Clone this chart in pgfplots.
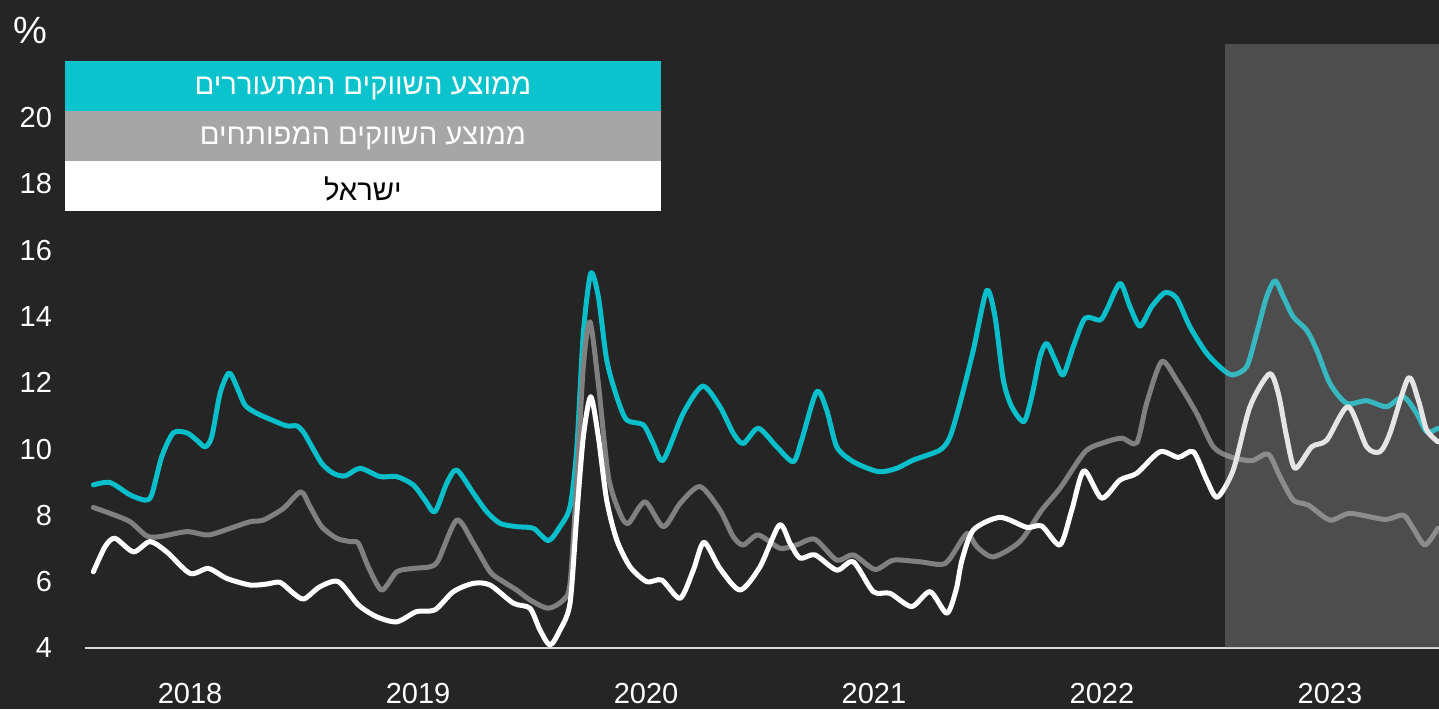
\documentclass[border=0pt]{standalone}
\usepackage{fontspec}
\setmainfont{Liberation Sans}
\newfontfamily\hebfont[Script=Hebrew]{Liberation Sans}
\usepackage{pgfplots}
\pgfplotsset{compat=1.18}
\usetikzlibrary{backgrounds}
\TeXXeTstate=1

\definecolor{bg}{HTML}{252525}
\definecolor{tealline}{HTML}{06BFCA}
\definecolor{tealbox}{HTML}{0BC3CD}
\definecolor{grayline}{HTML}{808080}
\definecolor{graybox}{HTML}{A6A6A6}
\definecolor{axc}{HTML}{D9D9D9}
\definecolor{shadec}{HTML}{AAAAAA}

\begin{document}
\begin{tikzpicture}
\begin{axis}[
    name=ax,
    width=677pt, height=302pt,
    scale only axis,
    xmin=0.47, xmax=71.74,
    ymin=4, ymax=22.22,
    clip=false,
    axis lines*=left,
    x axis line style={draw=axc, line width=1pt, -},
    y axis line style={draw=none},
    tick style={draw=none},
    major tick length=0pt,
    xtick={6,18,30,42,54,66},
    xticklabels={2018,2019,2020,2021,2022,2023},
    ytick={4,6,...,20},
    /pgf/number format/assume math mode=true,
    xticklabel style={text=white, font=\fontsize{14.5}{16}\selectfont, yshift=-14pt},
    yticklabel style={text=white, font=\fontsize{14.5}{16}\selectfont, xshift=-13pt},
    every axis plot/.append style={line width=2.5pt, smooth, tension=0.45, line join=round, line cap=round},
]

% emerging markets average
\addplot[color=tealline] coordinates {
(0.91,8.92) (1.79,8.99) (2.84,8.62) (3.63,8.46) (3.98,8.62) (4.51,9.77) (5.12,10.49)
(5.83,10.49) (6.35,10.27) (6.79,10.07) (7.14,10.37) (7.58,11.68) (8.05,12.30) (8.46,11.88)
(8.89,11.33) (9.51,11.08) (10.38,10.86) (11.09,10.70) (11.62,10.70) (11.96,10.52) (12.32,10.17)
(12.93,9.57) (13.54,9.27) (14.16,9.19) (14.95,9.42) (16.00,9.17) (16.88,9.17) (17.75,8.92)
(18.37,8.46) (18.89,8.11) (19.51,8.97) (20.04,9.37) (20.91,8.67) (21.62,8.11) (22.32,7.76)
(23.19,7.66) (24.07,7.61) (24.86,7.24) (25.47,7.66) (26.00,8.26) (26.35,9.97) (26.70,13.49)
(27.09,15.30) (27.49,14.60) (27.93,12.69) (28.46,11.58) (28.98,10.88) (29.86,10.73) (30.38,10.17)
(30.91,9.67) (31.96,11.08) (32.98,11.90) (33.89,11.28) (34.59,10.48) (35.12,10.17) (35.91,10.63)
(36.88,10.07) (37.75,9.62) (38.19,10.27) (38.98,11.73) (39.51,11.18) (40.04,10.07) (40.91,9.62)
(42.23,9.32) (43.19,9.42) (44.07,9.67) (45.47,9.97) (46.00,10.37) (46.53,11.39) (47.23,12.99)
(47.93,14.78) (48.37,13.99) (48.81,12.08) (49.25,11.28) (49.89,10.83) (50.30,11.58) (50.74,12.79)
(51.09,13.19) (51.53,12.69) (51.96,12.24) (52.49,13.09) (53.11,13.95) (53.89,13.89) (54.25,14.20)
(54.95,15.00) (55.47,14.30) (56.00,13.71) (56.62,14.30) (57.32,14.72) (57.93,14.55) (58.63,13.69)
(59.51,12.89) (60.38,12.39) (60.91,12.24) (61.62,12.49) (62.14,13.49) (62.67,14.60) (63.11,15.08)
(63.54,14.60) (64.07,13.99) (64.77,13.59) (65.30,12.99) (66.00,11.98) (66.88,11.38) (67.93,11.46)
(68.98,11.28) (69.86,11.58) (70.56,11.08) (71.09,10.52) (71.68,10.63)
};

% developed markets average
\addplot[color=grayline] coordinates {
(0.91,8.24) (1.79,8.06) (2.84,7.81) (3.72,7.38) (4.42,7.36) (5.83,7.51) (6.96,7.41)
(8.11,7.61) (9.16,7.81) (9.86,7.86) (10.91,8.21) (11.83,8.71) (12.32,8.26) (12.93,7.66)
(13.72,7.31) (14.42,7.21) (14.86,7.16) (15.38,6.45) (16.09,5.75) (16.88,6.30) (17.75,6.40)
(18.63,6.45) (19.07,6.65) (20.04,7.86) (20.91,7.16) (21.79,6.30) (22.49,6.00) (23.19,5.75)
(23.89,5.45) (24.86,5.20) (25.65,5.45) (26.00,5.95) (26.35,8.97) (26.70,12.49) (27.05,13.84)
(27.49,11.98) (28.02,9.17) (28.63,8.06) (29.07,7.76) (29.95,8.41) (30.91,7.66) (31.79,8.36)
(32.84,8.87) (33.89,8.16) (34.59,7.36) (35.12,7.11) (35.91,7.41) (37.05,7.01) (37.93,7.11)
(38.89,7.28) (40.04,6.65) (40.91,6.81) (42.05,6.37) (43.02,6.65) (44.42,6.60) (45.74,6.55)
(46.62,7.26) (46.96,7.46) (47.41,7.06) (48.28,6.75) (49.68,7.21) (50.83,8.16) (51.79,8.82)
(53.11,9.92) (54.07,10.19) (55.04,10.33) (55.83,10.19) (56.35,11.38) (57.14,12.64) (57.93,12.08)
(58.98,11.08) (59.86,10.07) (60.74,9.77) (61.88,9.65) (62.75,9.85) (63.37,9.17) (64.07,8.46)
(64.86,8.31) (66.00,7.86) (67.05,8.06) (68.89,7.88) (69.86,8.01) (70.38,7.61) (71.00,7.11)
(71.68,7.61)
};

% Israel
\addplot[color=white] coordinates {
(0.91,6.30) (1.53,7.06) (2.05,7.31) (3.02,6.90) (3.89,7.21) (4.77,6.90) (6.00,6.25)
(6.96,6.40) (7.93,6.10) (9.16,5.90) (10.04,5.93) (10.74,5.98) (11.44,5.65) (12.00,5.48)
(12.84,5.85) (13.81,6.00) (14.86,5.30) (15.83,4.94) (16.88,4.79) (17.93,5.10) (18.89,5.15)
(19.86,5.70) (20.91,5.95) (21.79,5.90) (23.02,5.35) (23.89,5.20) (24.42,4.54) (24.95,4.09)
(25.47,4.54) (26.00,5.35) (26.35,7.96) (26.70,10.37) (27.09,11.58) (27.49,10.37) (27.93,8.46)
(28.46,7.26) (29.16,6.45) (30.04,6.00) (30.83,6.05) (31.79,5.50) (32.49,6.35) (33.05,7.19)
(33.89,6.40) (34.95,5.75) (36.00,6.45) (37.02,7.71) (37.58,7.16) (38.11,6.71) (38.89,6.81)
(40.04,6.35) (40.91,6.60) (41.96,5.70) (42.84,5.65) (43.98,5.25) (44.95,5.70) (45.83,5.05)
(46.32,5.75) (46.63,6.65) (47.23,7.56) (48.63,7.94) (50.04,7.64) (50.83,7.68) (51.79,7.11)
(52.41,8.16) (53.05,9.35) (53.98,8.52) (54.95,9.07) (55.83,9.27) (57.05,9.92) (58.02,9.75)
(58.81,9.92) (59.51,9.07) (60.07,8.55) (60.91,9.37) (61.79,11.28) (62.81,12.27) (63.28,11.68)
(63.72,10.37) (64.16,9.42) (65.04,10.07) (65.83,10.27) (66.96,11.28) (67.93,10.07) (68.63,9.92)
(69.16,10.48) (70.12,12.14) (70.65,11.48) (71.09,10.58) (71.68,10.22)
};

% forecast shading
\fill[shadec, opacity=0.3] (axis cs:60.47,4) rectangle (axis cs:71.74,22.22);

% legend boxes
\fill[tealbox] (axis cs:-0.58,21.71) rectangle (axis cs:30.79,20.20);
\fill[graybox] (axis cs:-0.58,20.20) rectangle (axis cs:30.79,18.69);
\fill[white] (axis cs:-0.58,18.69) rectangle (axis cs:30.79,17.18);
\node[text=white, font=\hebfont\fontsize{14.6}{16}\selectfont] at (axis cs:15.1,20.87) {\beginR ממוצע השווקים המתעוררים\endR};
\node[text=white, font=\hebfont\fontsize{14.6}{16}\selectfont] at (axis cs:15.1,19.36) {\beginR ממוצע השווקים המפותחים\endR};
\node[text=black, font=\hebfont\fontsize{14.6}{16}\selectfont] at (axis cs:15.1,17.86) {\beginR ישראל\endR};

\node[text=white, font=\fontsize{19}{21}\selectfont] at (axis cs:-2.42,22.64) {\%};
\end{axis}

\begin{scope}[on background layer]
\fill[bg] ([xshift=-42.5pt,yshift=-30.5pt]ax.south west) rectangle ([yshift=22pt]ax.north east);
\end{scope}
\pgfresetboundingbox
\path[use as bounding box] ([xshift=-42.5pt,yshift=-30.5pt]ax.south west) rectangle ([yshift=22pt]ax.north east);
\end{tikzpicture}
\end{document}
